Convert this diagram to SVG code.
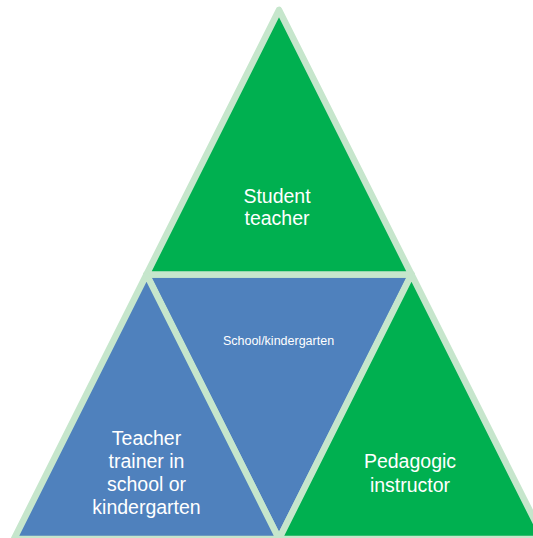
<svg xmlns="http://www.w3.org/2000/svg" width="533" height="538" viewBox="0 0 533 538">
<style>
.seg{stroke:#c6e6cc;stroke-width:6.5;stroke-linejoin:round}
.g{fill:#00b050}
.b{fill:#4f81bd}
.t{fill:#ffffff;font-family:"Liberation Sans",Arial,sans-serif;font-size:19.5px;text-anchor:middle}
.s{font-size:12.5px}
</style>
<rect width="533" height="538" fill="#ffffff"/>
<g id="connectors"></g>
<g id="school">
<polygon class="seg b" points="146.5,274.5 411.5,274.5 279,539"/>
<text class="t s" x="278.5" y="345">School/kindergarten</text>
</g>
<g id="student-teacher">
<polygon class="seg g" points="279,10 146.5,274.5 411.5,274.5"/>
<text class="t" x="277" y="203">Student</text>
<text class="t" x="277" y="225">teacher</text>
</g>
<g id="teacher-trainer">
<polygon class="seg b" points="146.5,274.5 14,539 279,539"/>
<text class="t" x="146.5" y="445">Teacher</text>
<text class="t" x="146.5" y="468">trainer in</text>
<text class="t" x="146.5" y="491">school or</text>
<text class="t" x="146.5" y="514">kindergarten</text>
</g>
<g id="pedagogic-instructor">
<polygon class="seg g" points="411.5,274.5 279,539 544,539"/>
<text class="t" x="410" y="468">Pedagogic</text>
<text class="t" x="410" y="492">instructor</text>
</g>
</svg>
